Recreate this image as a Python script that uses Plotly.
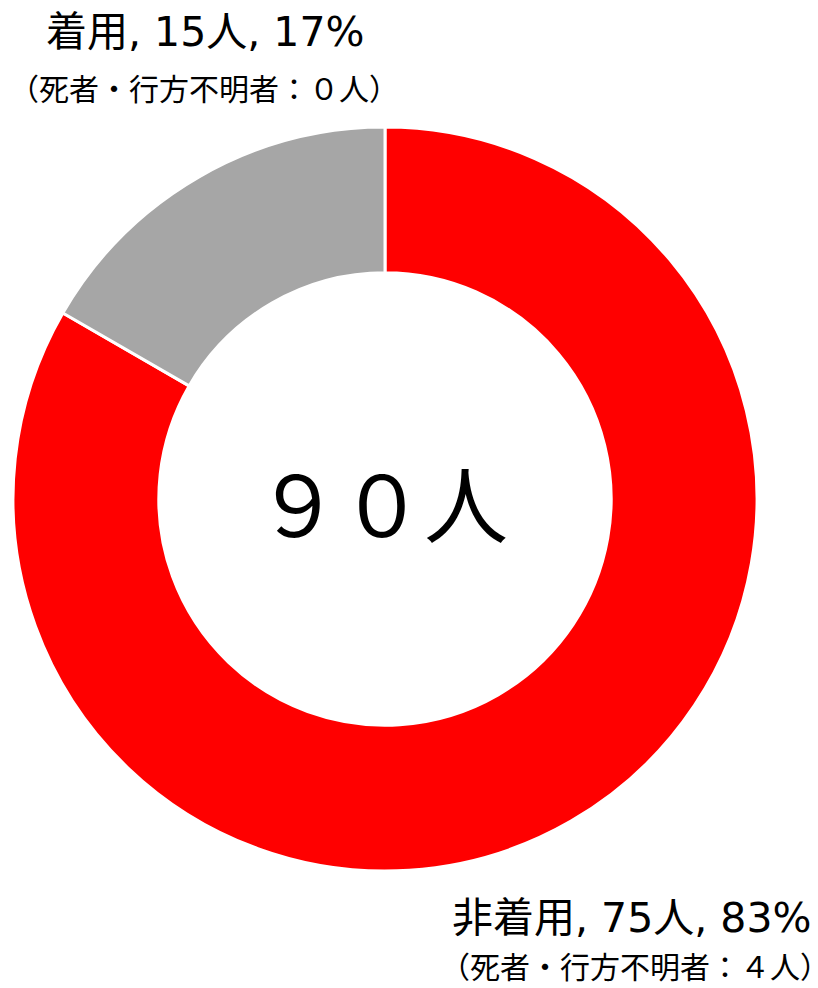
import plotly.graph_objects as go

# slice data
labels = ["非着用", "着用"]
counts = [75, 15]
deaths = ["４", "０"]
colors = ["#ff0000", "#a6a6a6"]
total_text = "９０人"

FONT = "DejaVu Sans, Noto Sans CJK JP"
W, H = 818, 988
cx, cy, r = 377, 491, 372

total = sum(counts)
pct = [round(c / total * 100) for c in counts]

fig = go.Figure(
    go.Pie(
        labels=labels,
        values=counts,
        hole=0.608,
        sort=False,
        direction="clockwise",
        rotation=0,
        marker=dict(colors=colors, line=dict(color="white", width=3)),
        textinfo="none",
        hoverinfo="label+value+percent",
        domain=dict(x=[(cx - r) / W, (cx + r) / W], y=[1 - (cy + r) / H, 1 - (cy - r) / H]),
        showlegend=False,
    )
)

# label centres in pixels
main_pos = [(623, 910), (197, 24)]
sub_pos = [(627, 959), (196, 82)]

for i, name in enumerate(labels):
    x, y = main_pos[i]
    fig.add_annotation(
        x=x / W, y=1 - y / H, xref="paper", yref="paper", xanchor="center", yanchor="middle",
        text=f"{name}, {counts[i]}人, {pct[i]}%", showarrow=False,
        font=dict(family=FONT, size=41, color="black"),
    )
    x, y = sub_pos[i]
    fig.add_annotation(
        x=x / W, y=1 - y / H, xref="paper", yref="paper", xanchor="center", yanchor="middle",
        text=f"（死者・行方不明者：{deaths[i]}人）", showarrow=False,
        font=dict(family=FONT, size=30, color="black"),
    )

fig.add_annotation(
    x=374 / W, y=1 - 500 / H, xref="paper", yref="paper", xanchor="center", yanchor="middle",
    text=total_text, showarrow=False,
    font=dict(family=FONT, size=84, color="black"),
)

fig.update_layout(
    width=W, height=H,
    margin=dict(l=0, r=0, t=0, b=0),
    paper_bgcolor="white", plot_bgcolor="white",
)

fig.write_html("out.html")
